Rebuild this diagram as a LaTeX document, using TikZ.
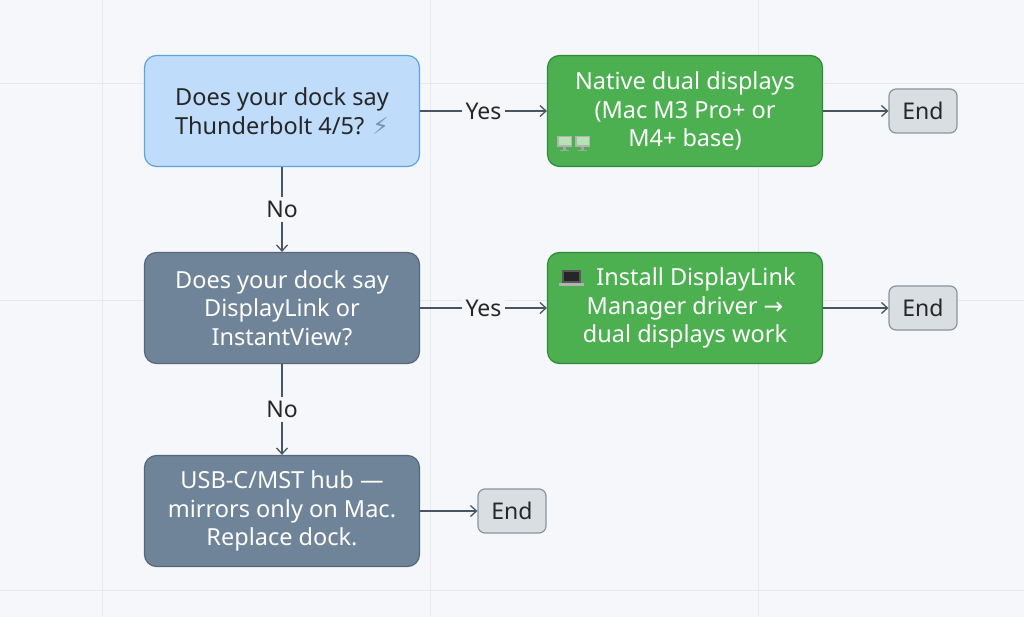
\documentclass[tikz,border=0pt]{standalone}
\usepackage{fontspec}
\setmainfont{Noto Sans}
\newfontfamily\symfont{DejaVu Sans}
\usetikzlibrary{positioning,arrows.meta}
\definecolor{bgc}{HTML}{F5F7FA}
\definecolor{gridc}{HTML}{E6E9EE}
\definecolor{qfill}{HTML}{BFDCFB}
\definecolor{qline}{HTML}{5DA3E0}
\definecolor{dfill}{HTML}{6F8399}
\definecolor{dline}{HTML}{56677A}
\definecolor{gfill}{HTML}{4CAF50}
\definecolor{gline}{HTML}{2F8A3C}
\definecolor{efill}{HTML}{D9DEE3}
\definecolor{eline}{HTML}{8A95A0}
\definecolor{arr}{HTML}{4A5563}
\tikzset{
  box/.style={rounded corners=12pt, line width=1.2pt, minimum width=275pt, minimum height=111pt,
    align=center, font=\fontsize{23.5}{28.5}\selectfont},
  question/.style={box, fill=qfill, draw=qline, text=black!85},
  decision/.style={box, fill=dfill, draw=dline, text=white},
  result/.style={box, fill=gfill, draw=gline, text=white},
  finish/.style={rounded corners=7pt, line width=1.2pt, fill=efill, draw=eline,
    minimum width=68pt, minimum height=44pt, font=\fontsize{23}{27}\selectfont, text=black!85},
  link/.style={draw=arr, line width=1.3pt, -{Straight Barb[length=6pt,width=11pt]}},
  lbl/.style={font=\fontsize{23}{27}\selectfont, text=black!85, fill=bgc, inner sep=4pt},
}
\newcommand{\monitor}[2]{%
  \fill[gray!60] (#1,#2) rectangle ++(15,11);
  \fill[green!45!gray!40] (#1+1.5,#2+1.5) rectangle ++(12,8);
  \fill[gray!70] (#1+6,#2+11) rectangle ++(3,3);
  \fill[gray!70] (#1+3,#2+14) rectangle ++(9,1.5);}
\begin{document}
\begin{tikzpicture}[x=1pt,y=-1pt]
\fill[bgc] (0,0) rectangle (1024,617);
\useasboundingbox (0,0) rectangle (1024,617);
\foreach \gx in {102,430,758} \draw[gridc] (\gx,0) -- (\gx,617);
\foreach \gy in {83,300,590} \draw[gridc] (0,\gy) -- (1024,\gy);

\node[question] (tb) at (282,111) {Does your dock say\\Thunderbolt 4/5? {\symfont\textcolor{qline!60!gray}{⚡}}};
\node[result] (native) at (685,111) {Native dual displays\\(Mac M3 Pro+ or\\M4+ base)};
\node[finish] (end1) at (923,111) {End};

\node[decision] (dl) at (282,308) {Does your dock say\\DisplayLink or\\InstantView?};
\node[result] (driver) at (685,308) {\hspace{22pt}Install DisplayLink\\Manager driver {\symfont→}\\dual displays work};
\node[finish] (end2) at (923,308) {End};

\node[decision] (hub) at (282,511) {USB-C/MST hub ---\\mirrors only on Mac.\\Replace dock.};
\node[finish] (end3) at (512,511) {End};

% icons
\monitor{557}{136}
\monitor{575}{136}
\fill[gray!70!black] (562,270) rectangle ++(19,13);
\fill[gray!30!black] (564,272) rectangle ++(15,9);
\fill[gray!60] (559,283) rectangle ++(25,3);

% connectors
\draw[link] (tb) -- node[lbl] {Yes} (native);
\draw[link] (native) -- (end1);
\draw[link] (tb) -- node[lbl] {No} (dl);
\draw[link] (dl) -- node[lbl] {Yes} (driver);
\draw[link] (driver) -- (end2);
\draw[link] (dl) -- node[lbl] {No} (hub);
\draw[link] (hub) -- (end3);
\end{tikzpicture}
\end{document}
